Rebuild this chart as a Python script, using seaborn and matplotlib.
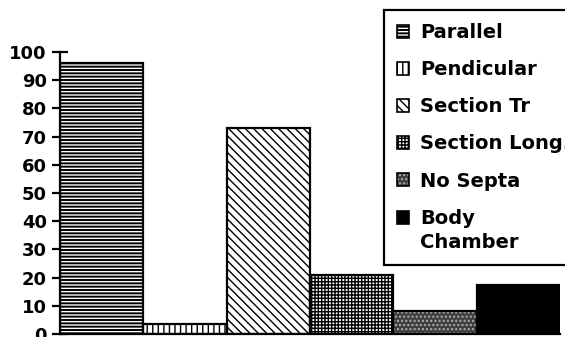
import matplotlib
matplotlib.use("Agg")
import matplotlib.pyplot as plt
import seaborn as sns
import pandas as pd
from matplotlib.patches import Patch, Rectangle
from matplotlib.legend_handler import HandlerTuple

# Septal orientation categories and percentages
categories = ["Parallel", "Pendicular", "Section Tr", "Section Long.", "No Septa", "Body\nChamber"]
values = [96, 3.5, 73, 21, 8, 17.5]
yticks = [0, 10, 20, 30, 40, 50, 60, 70, 80, 90, 100]

# Fill style per category: face colour, hatch pattern, hatch colour
faces = ["black", "white", "white", "white", "#404040", "black"]
hatches = ["-----", "|||", "\\\\\\\\", "+++++", "....", ""]
hatch_colors = ["white", "black", "black", "black", "#b0b0b0", "black"]

sns.set_style("white")
plt.rcParams["font.family"] = ["DejaVu Sans"]
plt.rcParams["font.weight"] = "bold"
plt.rcParams["text.color"] = "black"
plt.rcParams["hatch.linewidth"] = 1.0

df = pd.DataFrame({"category": categories, "value": values})

fig = plt.figure(figsize=(5.65, 3.37), dpi=100)
ax = fig.add_axes([60 / 565, 3 / 337, 500 / 565, 282 / 337])

sns.barplot(data=df, x="category", y="value", hue="category",
            palette=dict(zip(categories, faces)), width=1.0,
            legend=False, ax=ax, linewidth=0, saturation=1)

# Apply hatch patterns, then draw black outlines on top of each bar
for bar, h, hc in zip(ax.patches, hatches, hatch_colors):
    bar.set_hatch(h)
    bar.set_edgecolor(hc)
    bar.set_linewidth(0)
for bar in list(ax.patches):
    ax.add_patch(Rectangle(bar.get_xy(), bar.get_width(), bar.get_height(),
                           fill=False, edgecolor="black", linewidth=1.6, zorder=3))

ax.set_xlim(-0.5, 5.5)
ax.set_ylim(0, 100)
ax.set_yticks(yticks)
ax.set_xticks([])
ax.set_xlabel("")
ax.set_ylabel("")
for side in ["top", "right"]:
    ax.spines[side].set_visible(False)
for side in ["left", "bottom"]:
    ax.spines[side].set_linewidth(1.6)
    ax.spines[side].set_color("black")
ax.tick_params(axis="y", left=True, direction="inout", length=11, width=1.6,
               pad=4, labelsize=13, colors="black")
for t in ax.get_yticklabels():
    t.set_fontweight("bold")


class RaisedTuple(HandlerTuple):
    """Overlay handler whose swatch sits level with the first text line."""

    def __init__(self, raise_by=0.0, **kw):
        super().__init__(**kw)
        self.raise_by = raise_by

    def create_artists(self, legend, orig_handle, xdescent, ydescent,
                       width, height, fontsize, trans):
        return super().create_artists(legend, orig_handle, xdescent,
                                      ydescent - self.raise_by * fontsize,
                                      width, height, fontsize, trans)


# Legend with hatched swatches framed in black
handles = []
for fc, h, hc in zip(faces, hatches, hatch_colors):
    fill = Patch(facecolor=fc, hatch=h, edgecolor=hc, linewidth=0)
    frame = Patch(facecolor="none", edgecolor="black", linewidth=1.2)
    handles.append((fill, frame))

hmap = {tuple: HandlerTuple(ndivide=1, pad=0)}
hmap[handles[-1]] = RaisedTuple(raise_by=0.68, ndivide=1, pad=0)

leg = fig.legend(handles, categories, loc="upper left",
                 bbox_to_anchor=(384 / 565, 1 - 10 / 337),
                 bbox_transform=fig.transFigure, borderaxespad=0,
                 handler_map=hmap,
                 prop={"size": 14, "weight": "bold"},
                 handlelength=0.62, handleheight=0.62, handletextpad=0.55,
                 labelspacing=0.93, borderpad=0.68, fancybox=False,
                 frameon=True, framealpha=1, edgecolor="black")
leg.get_frame().set_linewidth(1.6)
for t in leg.get_texts():
    t.set_linespacing(1.35)
    t.set_color("black")

fig.savefig("out.png", dpi=100)
